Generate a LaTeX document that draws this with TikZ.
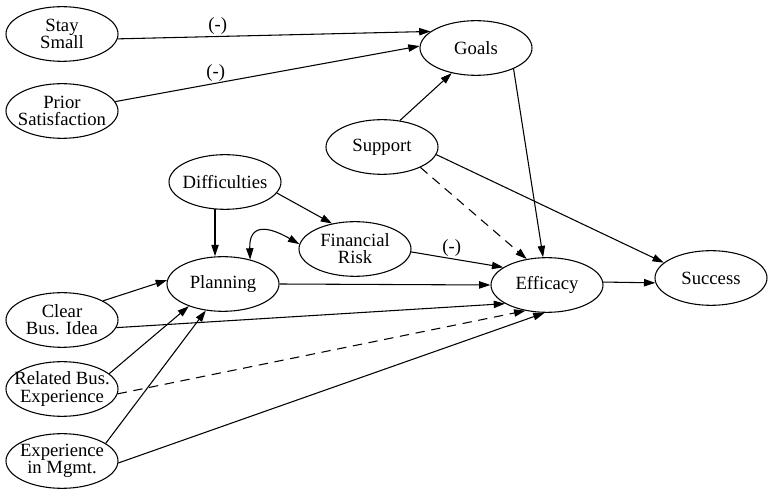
\documentclass[tikz,border=0pt]{standalone}
\usepackage{fontspec}
\setmainfont{Liberation Serif}
\usetikzlibrary{shapes.geometric,arrows.meta}
\tikzset{
  ell/.style={ellipse, draw, line width=0.8pt, minimum width=84pt, minimum height=41pt,
    inner xsep=-8pt, inner ysep=-4pt, align=center, font=\fontsize{14}{12.8}\selectfont},
  tip/.style={Triangle[length=8.5pt,width=5.5pt]},
  arr/.style={line width=0.8pt, -{Triangle[length=8.5pt,width=5.5pt]}},
  darr/.style={arr, dash pattern=on 7pt off 5pt},
  lbl/.style={above, inner sep=1pt, font=\fontsize{14}{12.8}\selectfont}
}
\begin{document}
\begin{tikzpicture}[x=0.75pt, y=-0.75pt]
\useasboundingbox (0,0) rectangle (768,491);
\node[ell] (ss)    at (62,34)   {Stay\\Small};
\node[ell] (ps)    at (62,111)  {Prior\\Satisfaction};
\node[ell] (goals) at (476,48)  {Goals};
\node[ell] (sup)   at (382,147) {Support};
\node[ell] (dif)   at (225,182) {Difficulties};
\node[ell] (fin)   at (355,249) {Financial\\Risk};
\node[ell] (plan)  at (223,284) {Planning};
\node[ell] (eff)   at (547,285) {Efficacy};
\node[ell] (suc)   at (711,278) {Success};
\node[ell] (cbi)   at (62,320)  {Clear\\Bus. Idea};
\node[ell] (rbe)   at (62,389)  {Related Bus.\\Experience};
\node[ell] (exp)   at (62,461)  {Experience\\in Mgmt.};

\draw[arr] (ss.-5) -- node[lbl, pos=0.32] {(-)} (goals.160);
\draw[arr] (ps.10) -- node[lbl, pos=0.33] {(-)} (goals.178);
\draw[arr] (sup.56) -- (goals.226);
\draw[arr] (goals.-29) -- (eff.98);
\draw[darr] (sup.-28) -- (eff.128);
\draw[arr] (sup.-8) -- (suc.162);
\draw[arr] (dif.-110) -- (dif.-110 |- plan.north);
\draw[arr] (dif.-12) -- (fin.132);
\draw[line width=0.8pt, {Triangle[length=8.5pt,width=5.5pt]}-{Triangle[length=8.5pt,width=5.5pt]}]
  (plan.42) to[out=92, in=150, looseness=1.8] (fin.175);
\draw[arr] (fin.-3) -- node[lbl, pos=0.44] {(-)} (eff.158);
\draw[arr] (plan.east) -- (eff.west);
\draw[arr] (cbi.25) -- (plan.176);
\draw[arr] (cbi.-8) -- (eff.204);
\draw[arr] (rbe.18) -- (plan.213);
\draw[darr] (rbe.-5) -- (eff.230);
\draw[arr] (exp.22) -- (plan.237);
\draw[arr] (exp.-2) -- (eff.265);
\draw[arr] (eff.3) -- (suc.185);
\end{tikzpicture}
\end{document}
